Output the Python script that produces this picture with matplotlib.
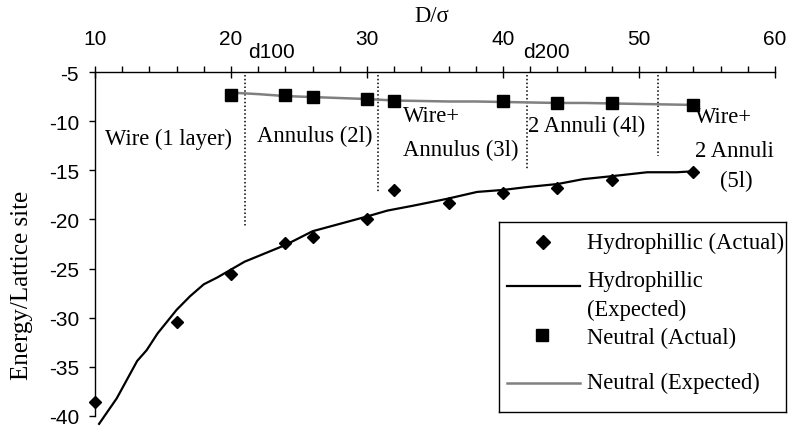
import matplotlib
matplotlib.use("Agg")
import matplotlib.pyplot as plt
from matplotlib.lines import Line2D
from matplotlib.ticker import MultipleLocator

plt.rcParams["axes.unicode_minus"] = False

# ---- data ----
hydro_x = [10, 16, 20, 24, 26, 30, 32, 36, 40, 44, 48, 54]
hydro_y = [-38.6, -30.4, -25.6, -22.4, -21.8, -20.0, -17.0, -18.3, -17.3, -16.8, -16.0, -15.2]

hydro_exp_x = [10.3, 11.6, 13.1, 13.8, 14.6, 16.0, 17.0, 18.0, 19.0, 21.0, 24.0, 26.0, 30.0,
               31.5, 33.4, 35.9, 38.1, 40.0, 41.8, 44.0, 45.9, 48.0, 50.6, 52.8, 54.0]
hydro_exp_y = [-40.8, -38.2, -34.4, -33.3, -31.6, -29.2, -27.8, -26.6, -25.9, -24.3, -22.6, -21.2, -19.7,
               -19.1, -18.6, -17.9, -17.2, -17.0, -16.7, -16.4, -15.9, -15.6, -15.2, -15.2, -15.1]

neutral_x = [20, 24, 26, 30, 32, 40, 44, 48, 54]
neutral_y = [-7.3, -7.35, -7.55, -7.75, -7.95, -8.0, -8.15, -8.15, -8.4]

neutral_exp_x = [20, 22, 24, 26, 28, 30, 32, 34, 36, 38, 40, 42, 44, 46, 48, 50, 52, 54]
neutral_exp_y = [-7.1, -7.25, -7.45, -7.55, -7.65, -7.75, -7.9, -7.95, -8.0, -8.0, -8.05,
                 -8.1, -8.15, -8.15, -8.2, -8.25, -8.3, -8.35]

# structural transitions (dotted separators)
boundary_x = [21.0, 30.8, 41.8, 51.4]
boundary_bottom = [-20.8, -17.3, -15.0, -13.5]
boundary_top = -5.3

region_labels = [
    ("Wire (1 layer)", 10.74, -11.8),
    ("Annulus (2l)", 21.9, -11.5),
    ("Wire+", 32.65, -9.46),
    ("Annulus (3l)", 32.65, -12.91),
    ("2 Annuli (4l)", 41.84, -10.48),
    ("Wire+", 54.12, -9.57),
    ("2 Annuli", 54.12, -13.01),
    ("(5l)", 55.96, -16.06),
]
peak_labels = [("d100", 21.25), ("d200", 41.47)]

x_ticks = [10, 20, 30, 40, 50, 60]
y_ticks = [-5, -10, -15, -20, -25, -30, -35, -40]

SERIF = "Liberation Serif"
SANS = "Liberation Sans"
TXT = 16.3
TICK = 15

W, H = 788, 427
fig = plt.figure(figsize=(W / 100, H / 100), dpi=100)
fig.patch.set_facecolor("white")

left, right, top, bottom = 95, 775, 73, 417
ax = fig.add_axes([left / W, 1 - bottom / H, (right - left) / W, (bottom - top) / H])
ax.set_xlim(10, 60)
ax.set_ylim(-40, -5)

for s in ("right", "bottom"):
    ax.spines[s].set_visible(False)
for s in ("left", "top"):
    ax.spines[s].set_linewidth(1.0)

ax.xaxis.tick_top()
ax.set_xticks(x_ticks)
ax.xaxis.set_minor_locator(MultipleLocator(2))
ax.set_yticks(y_ticks)
ax.tick_params(axis="x", which="major", direction="inout", length=9, width=1,
               pad=13, labelsize=TICK)
ax.tick_params(axis="x", which="minor", direction="out", length=4, width=1)
ax.tick_params(axis="y", which="major", direction="out", length=4.5, width=1,
               pad=7, labelsize=TICK)
for lab in ax.get_xticklabels() + ax.get_yticklabels():
    lab.set_fontfamily(SANS)

# series
ax.plot(neutral_exp_x, neutral_exp_y, color="#808080", lw=1.8, zorder=2)
ax.plot(hydro_exp_x, hydro_exp_y, color="black", lw=1.6, zorder=2, clip_on=False)
ax.plot(neutral_x, neutral_y, ls="none", marker="s", ms=8.4, color="black", zorder=3,
        clip_on=False)
ax.plot(hydro_x, hydro_y, ls="none", marker="D", ms=6.6, color="black", zorder=3,
        clip_on=False)

# separators and region names
for bx, bb in zip(boundary_x, boundary_bottom):
    ax.plot([bx, bx], [boundary_top, bb], color="black", lw=1.1, ls=(0, (1, 1.5)), zorder=1)
for txt, tx, ty in region_labels:
    ax.text(tx, ty, txt, family=SERIF, fontsize=TXT, ha="left", va="center", clip_on=False)
for txt, tx in peak_labels:
    ax.text(tx, -2.87, txt, family=SANS, fontsize=TICK, ha="left", va="center", clip_on=False)

fig.text(432 / W, 1 - 17 / H, "D/\u03c3", family=SERIF, fontsize=TXT, ha="center", va="center")
fig.text(22 / W, 1 - 285 / H, "Energy/Lattice site", family=SERIF, fontsize=18,
         rotation=90, ha="center", va="center")

# legend panel
lx0, lx1, ly0, ly1 = 499, 786, 223, 413
lg = fig.add_axes([lx0 / W, 1 - ly1 / H, (lx1 - lx0) / W, (ly1 - ly0) / H])
lg.set_xlim(lx0, lx1)
lg.set_ylim(ly1, ly0)
lg.set_xticks([])
lg.set_yticks([])
for s in lg.spines.values():
    s.set_linewidth(1.0)
lg.patch.set_facecolor("white")

lg.add_line(Line2D([543], [243], marker="D", ms=6.8, color="black", ls="none"))
lg.add_line(Line2D([507, 580], [287, 287], color="black", lw=1.6))
lg.add_line(Line2D([542], [336], marker="s", ms=8.2, color="black", ls="none"))
lg.add_line(Line2D([507, 580], [384, 384], color="#808080", lw=1.8))
legend_texts = [("Hydrophillic (Actual)", 243), ("Hydrophillic", 282),
                ("(Expected)", 310), ("Neutral (Actual)", 338), ("Neutral (Expected)", 383)]
for txt, ty in legend_texts:
    lg.text(587, ty, txt, family=SERIF, fontsize=TXT, ha="left", va="center")

fig.savefig("out.png", dpi=100)
